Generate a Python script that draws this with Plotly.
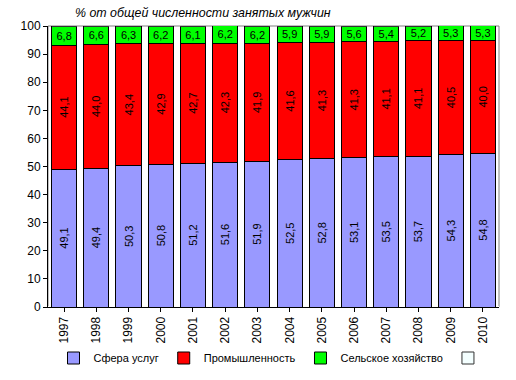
import plotly.graph_objects as go

years = ["1997","1998","1999","2000","2001","2002","2003","2004","2005","2006","2007","2008","2009","2010"]
services = [49.1,49.4,50.3,50.8,51.2,51.6,51.9,52.5,52.8,53.1,53.5,53.7,54.3,54.8]
industry = [44.1,44.0,43.4,42.9,42.7,42.3,41.9,41.6,41.3,41.3,41.1,41.1,40.5,40.0]
agriculture = [6.8,6.6,6.3,6.2,6.1,6.2,6.2,5.9,5.9,5.6,5.4,5.2,5.3,5.3]
empty = [0]*14

names = ["Сфера услуг", "Промышленность", "Сельское хозяйство", ""]
colors = ["#9999FF", "#FF0000", "#00FF00", "#F4FFFF"]

def fmt(v):
    return f"{v:.1f}".replace(".", ",")

font = "Liberation Sans, Arial, sans-serif"
fig = go.Figure()
for vals, name, col, ang in [(services, names[0], colors[0], -90),
                              (industry, names[1], colors[1], -90),
                              (agriculture, names[2], colors[2], 0)]:
    fig.add_trace(go.Bar(x=years, y=vals, name=name,
                         marker=dict(color=col, line=dict(color="black", width=1)),
                         text=[fmt(v) for v in vals], textposition="inside",
                         insidetextanchor="middle", textangle=ang,
                         constraintext="none",
                         textfont=dict(color="black", size=11, family=font)))
fig.add_trace(go.Bar(x=years, y=empty, name=names[3],
                     marker=dict(color=colors[3], line=dict(color="#333333", width=1)),
                     hoverinfo="skip"))

fig.update_layout(
    barmode="stack", bargap=0.22,
    width=516, height=380,
    margin=dict(l=48, r=17, t=26, b=73),
    paper_bgcolor="white", plot_bgcolor="white",
    font=dict(family=font, size=11, color="black"),
    showlegend=True,
    legend=dict(orientation="h", x=0.5, xanchor="center", yref="container", y=22/380,
                yanchor="middle", font=dict(size=11, family=font), itemwidth=30,
                traceorder="normal"),
    title=dict(text="<i>% от общей численности занятых мужчин</i>", xref="container", yref="container",
               x=75/516, xanchor="left", y=1 - 13/380, yanchor="middle",
               font=dict(size=12.4, family=font, color="black")),
)
fig.update_xaxes(showline=True, linecolor="black", linewidth=1, tickangle=-90,
                 ticks="outside", ticklen=4, tickcolor="black", mirror=False, automargin=False,
                 tickfont=dict(size=12, family=font))
fig.update_yaxes(range=[0, 100], dtick=10, showline=True, linecolor="black", linewidth=1,
                 ticks="outside", ticklen=4, tickcolor="black", showgrid=False, automargin=False,
                 tickfont=dict(size=12, family=font))
fig.add_shape(type="rect", xref="paper", yref="paper", x0=0, y0=0, x1=1, y1=1,
              line=dict(color="#808080", width=1), layer="below")
fig.write_html("out.html", config={"displayModeBar": False},
               post_script="document.body.style.margin='0px';")
